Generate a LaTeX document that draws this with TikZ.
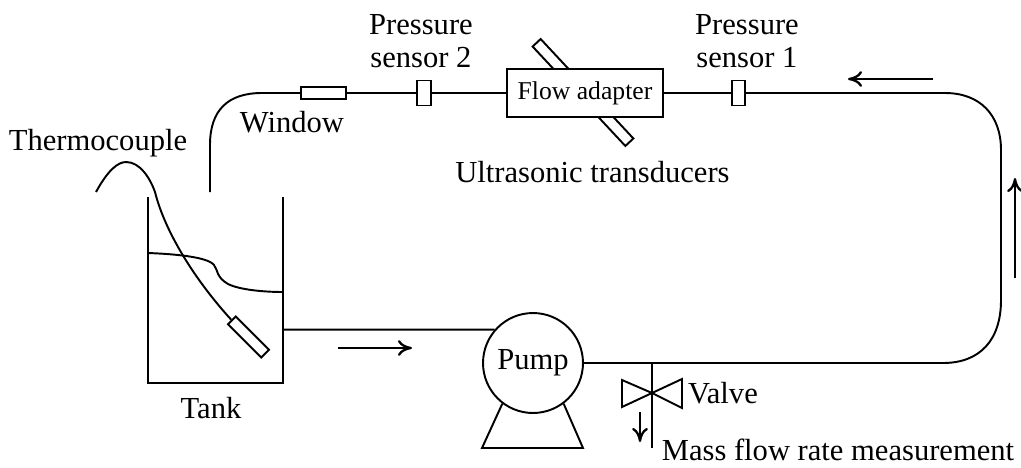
\documentclass[tikz,border=0pt]{standalone}
\usepackage{fontspec}
\setmainfont{Liberation Serif}
\usetikzlibrary{arrows.meta}
\tikzset{
  pipepart/.style={draw, fill=white, inner sep=0pt},
  lbl/.style={inner sep=0pt, align=center, font=\fontsize{17.4}{18.5}\selectfont},
  flowarrow/.style={line width=1.3pt, -{To[length=8pt,width=9pt]}},
}
\begin{document}
\begin{tikzpicture}[x=0.02cm, y=-0.02cm, line width=1.1pt]
  \useasboundingbox (0,0) rectangle (1021,467);

  % Tank
  \draw (148,197) -- (148,383) -- (283,383) -- (283,197);
  \coordinate (tankout) at (283,329.7);
  \coordinate (tankin) at (210,192);
  \draw (148,253) .. controls (175,254) and (208,257) .. (214,265)
    .. controls (218,270) and (216,277) .. (228,284)
    .. controls (240,290) and (265,292) .. (283,292);
  \node[pipepart, minimum width=0.94cm, minimum height=0.22cm, rotate=-45] (probe) at (248.5,337) {};
  \node[lbl] (tanklabel) at (211,408) {Tank};

  % Thermocouple
  \draw (96,192) .. controls (108,170) and (118,162) .. (126,162)
    .. controls (140,162) and (150,178) .. (155,192)
    .. controls (165,232) and (195,280) .. (probe.west);
  \node[lbl] (thermolabel) at (98,143) {Thermocouple};

  % Transducers and flow adapter
  \node[pipepart, minimum width=2.72cm, minimum height=0.22cm, rotate=-47] (transducer) at (583,92.5) {};
  \node[pipepart, minimum width=3.12cm, minimum height=0.96cm, font=\fontsize{14.6}{16}\selectfont] (adapter) at (585,93) {Flow adapter};
  \node[lbl] (translabel) at (592.5,172) {Ultrasonic transducers};

  % Window and sensors
  \node[pipepart, minimum width=0.9cm, minimum height=0.24cm] (window) at (323.5,93) {};
  \node[pipepart, minimum width=0.28cm, minimum height=0.5cm] (sensortwo) at (424,93) {};
  \node[pipepart, minimum width=0.26cm, minimum height=0.5cm] (sensorone) at (738.5,93) {};
  \node[lbl] (windowlabel) at (292,122) {Window};
  \node[lbl] (sensortwolabel) at (421,41) {Pressure\\sensor 2};
  \node[lbl] (sensoronelabel) at (747,41) {Pressure\\sensor 1};

  % Pump
  \node[draw, circle, minimum size=2cm, inner sep=0pt, font=\fontsize{17.4}{18.5}\selectfont] (pump) at (533,363) {Pump};
  \draw (pump.233) -- (482,448) -- (583,448) -- (pump.307);

  % Pipe loop
  \draw (tankout) -- (pump.139);
  \draw (pump.east) -- (943,363) .. controls (980,363) and (1001,340) .. (1001,300)
    -- (1001,150) .. controls (1001,115) and (980,93) .. (945,93) -- (sensorone.east);
  \draw (sensorone.west) -- (adapter.east);
  \draw (adapter.west) -- (sensortwo.east);
  \draw (sensortwo.west) -- (window.east);
  \draw (window.west) -- (262,93) .. controls (228,93) and (210,110) .. (210,145) -- (tankin);

  % Valve
  \coordinate (tee) at (652,363);
  \coordinate (bleed) at (652,448);
  \coordinate (valvemid) at (652,393);
  \draw (tee) -- (bleed);
  \draw (valvemid) -- (622,380) -- (622,407) -- cycle;
  \draw (valvemid) -- (682,379) -- (682,408) -- cycle;
  \node[lbl] (valvelabel) at (723,393) {Valve};
  \node[lbl] (masslabel) at (838,450) {Mass flow rate measurement};

  % Flow directions
  \coordinate (flowa) at (338,348);
  \coordinate (flowb) at (412,348);
  \coordinate (flowc) at (933,79);
  \coordinate (flowd) at (848,79);
  \coordinate (flowe) at (1015,278);
  \coordinate (flowf) at (1015,178);
  \coordinate (flowg) at (640,412);
  \coordinate (flowh) at (640,442);
  \draw[flowarrow] (flowa) -- (flowb);
  \draw[flowarrow] (flowc) -- (flowd);
  \draw[flowarrow] (flowe) -- (flowf);
  \draw[flowarrow] (flowg) -- (flowh);
\end{tikzpicture}
\end{document}
